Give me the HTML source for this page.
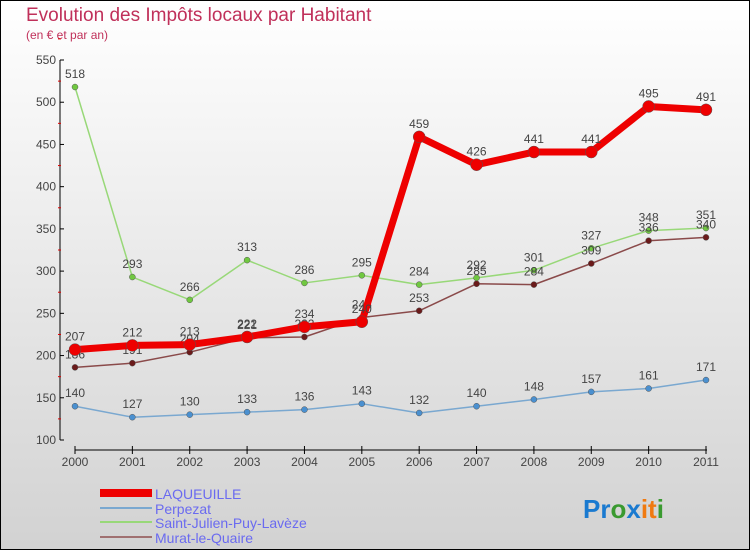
<!DOCTYPE html>
<html><head><meta charset="utf-8"><style>
body{margin:0}
#c{width:750px;height:550px;position:relative;box-sizing:border-box;border:1px solid #000;background:linear-gradient(#ffffff,#d2d2d2);font-family:"Liberation Sans",sans-serif;overflow:hidden}
</style></head><body>
<div id="c">
<svg id="s" width="750" height="550" style="position:absolute;left:-1px;top:-1px">
<text x="26" y="21" font-size="19" fill="#c0305a">Evolution des Impôts locaux par Habitant</text>
<text x="26" y="39" font-size="12" fill="#c0305a">(en € et par an)</text>
<g id="axes"></g><g id="series"></g>
<g>
<rect x="100" y="489" width="52" height="8" fill="#e00"/>
<text x="155" y="499" font-size="14" fill="#6a6af0">LAQUEUILLE</text>
<rect x="100" y="507" width="52" height="2" fill="#7aa8d0"/>
<text x="155" y="514" font-size="14" fill="#6a6af0">Perpezat</text>
<rect x="100" y="521" width="52" height="2" fill="#98d878"/>
<text x="155" y="528" font-size="14" fill="#6a6af0">Saint-Julien-Puy-Lavèze</text>
<rect x="100" y="536" width="52" height="2" fill="#a07070"/>
<text x="155" y="543" font-size="14" fill="#6a6af0">Murat-le-Quaire</text>
</g>
<text x="583" y="518" font-size="26" font-weight="bold"><tspan fill="#1a7ad0">Pr</tspan><tspan fill="#3a9a30">o</tspan><tspan fill="#1a7ad0">x</tspan><tspan fill="#f07a10">it</tspan><tspan fill="#3a9a30">i</tspan></text>
</svg>
</div>
<script>
const years=["2000","2001","2002","2003","2004","2005","2006","2007","2008","2009","2010","2011"];
const yTicks=[100,150,200,250,300,350,400,450,500,550];
const laqueuille=[207,212,213,222,234,240,459,426,441,441,495,491];
const perpezat=[140,127,130,133,136,143,132,140,148,157,161,171];
const saintJulien=[518,293,266,313,286,295,284,292,301,327,348,351];
const murat=[186,191,204,221,222,245,253,285,284,309,336,340];
const NS="http://www.w3.org/2000/svg";
function X(i){return 75+i*(706-75)/11;}
function Y(v){return 440-(v-100)*380/450;}
function mk(t,a,p){const e=document.createElementNS(NS,t);for(const k in a)e.setAttribute(k,a[k]);p.appendChild(e);return e;}
const ax=document.getElementById('axes');
const yl=mk('line',{x1:60,y1:60,x2:60,y2:440,stroke:'#000'},ax);


yTicks.forEach(v=>{
 mk('line',{x1:60,x2:64,y1:Y(v),y2:Y(v),stroke:'#000'},ax);
 mk('line',{x1:58,x2:61,y1:Y(v+25),y2:Y(v+25),stroke:'#d00'},ax);
 const t=mk('text',{x:56,y:Y(v)+4,'font-size':12,'text-anchor':'end',fill:'#444'},ax);t.textContent=v;
 
 
});
const xl=mk('line',{x1:75,y1:450,x2:707,y2:450,stroke:'#000'},ax);


years.forEach((y,i)=>{
 mk('line',{x1:X(i),x2:X(i),y1:446,y2:454,stroke:'#000'},ax);
 const t=mk('text',{x:X(i),y:466,'font-size':12,'text-anchor':'middle',fill:'#444'},ax);t.textContent=y;
 
 
});
const sg=document.getElementById('series');
function series(d,col,w,r,dot,name){
 const g=mk('g',{},sg);
 
 
 mk('polyline',{points:d.map((v,i)=>X(i)+','+Y(v)).join(' '),fill:'none',stroke:col,'stroke-width':w,'stroke-linejoin':'round'},g);
 d.forEach((v,i)=>{
  const c=mk('circle',{cx:X(i),cy:Y(v),r:r,fill:dot,stroke:'#555','stroke-width':0.5},g);
  
  
  const t=mk('text',{x:X(i),y:Y(v)-9,'font-size':12,'text-anchor':'middle',fill:'#444'},g);t.textContent=v;
  
  
 });
}
series(perpezat,'#7aa8d0',1.5,3,'#4a90d0','series-perpezat');
series(saintJulien,'#98d878',1.5,3,'#70c840','series-saint-julien');
series(murat,'#8a4a4a',1.5,3,'#6a1a1a','series-murat');
series(laqueuille,'#ee0000',7,6,'#ee0000','series-laqueuille');
</script>
</body></html>
